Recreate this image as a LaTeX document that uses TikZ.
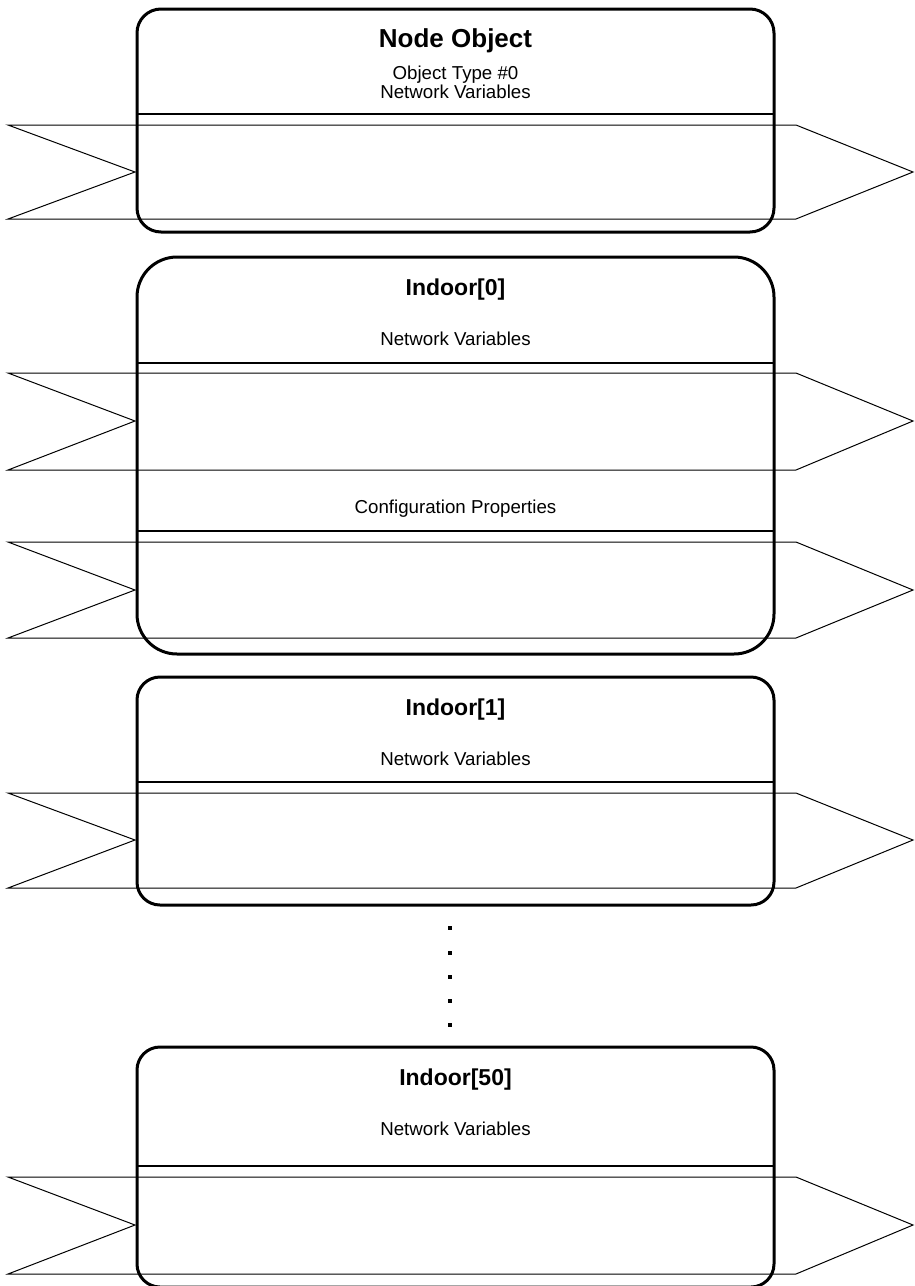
\documentclass[tikz,border=0pt]{standalone}
\usepackage{fontspec}
\setmainfont{Liberation Sans}
\begin{document}
\begin{tikzpicture}[x=1pt,y=-1pt,
  objbox/.style={draw=black,line width=3pt,rounded corners=#1,inner sep=0pt,outer sep=0pt},
  sepline/.style={draw=black,line width=1.8pt},
  band/.style={draw=black,line width=1pt,line join=miter},
  bigtitle/.style={font=\fontsize{26}{30}\selectfont\bfseries,anchor=base,inner sep=0pt},
  title/.style={font=\fontsize{23}{27}\selectfont\bfseries,anchor=base,inner sep=0pt},
  label/.style={font=\fontsize{18.7}{22}\selectfont,anchor=base,inner sep=0pt}
]
\useasboundingbox (0,0) rectangle (914,1286);

% bands (drawn first)
\foreach \t/\m/\b [count=\i] in {125/172/219, 373/421/470, 542/590/638, 793/840/888, 1177/1225/1274}{
  \draw[band] (8,\t) -- (796,\t) -- (913,\m) -- (796,\b) -- (8,\b) -- (135,\m) -- cycle;
}

% boxes
\node[objbox=24pt, minimum width=637pt, minimum height=223pt] (b1) at (455.5,120.5) {};
\node[objbox=40pt, minimum width=637pt, minimum height=397pt] (b2) at (455.5,455.5) {};
\node[objbox=23pt, minimum width=637pt, minimum height=228pt] (b3) at (455.5,791) {};
\node[objbox=23pt, minimum width=637pt, minimum height=240pt] (b4) at (455.5,1167) {};

% separators
\draw[sepline] (b1.west |- 0,114) -- (b1.east |- 0,114);
\draw[sepline] (b2.west |- 0,363) -- (b2.east |- 0,363);
\draw[sepline] (b2.west |- 0,531) -- (b2.east |- 0,531);
\draw[sepline] (b3.west |- 0,782) -- (b3.east |- 0,782);
\draw[sepline] (b4.west |- 0,1166) -- (b4.east |- 0,1166);

% texts
\node[bigtitle] (t1) at (455.5,47) {Node Object};
\node[label] (t1a) at (455.5,79) {Object Type \#0};
\node[label] (t1b) at (455.5,98) {Network Variables};

\node[title] (t2) at (455.5,295) {Indoor[0]};
\node[label] (t2a) at (455.5,345) {Network Variables};
\node[label] (t2b) at (455.5,513) {Configuration Properties};

\node[title] (t3) at (455.5,715) {Indoor[1]};
\node[label] (t3a) at (455.5,765) {Network Variables};

\node[title] (t4) at (455.5,1085) {Indoor[50]};
\node[label] (t4a) at (455.5,1135) {Network Variables};

% vertical dots
\foreach \y in {928,953,977,1001,1025}{
  \fill[black] (448,\y-2) rectangle (452,\y+2);
}
\end{tikzpicture}
\end{document}
